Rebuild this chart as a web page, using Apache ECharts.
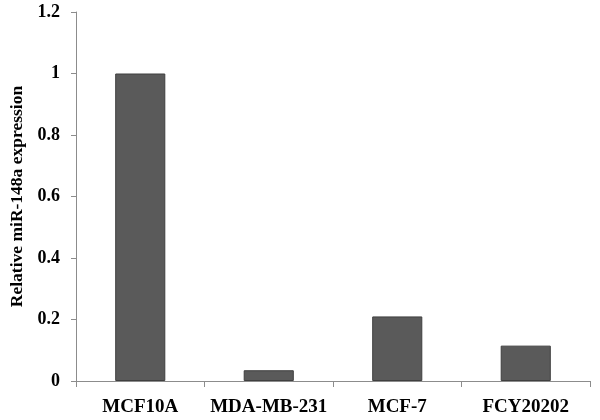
<!DOCTYPE html>
<html><head><meta charset="utf-8">
<script src="https://cdn.jsdelivr.net/npm/echarts@6/dist/echarts.min.js"></script>
<style>html,body{margin:0;padding:0;background:#fff}#c{width:600px;height:420px}</style>
</head><body><div id="c"></div>
<script>
const categories = ['MCF10A', 'MDA-MB-231', 'MCF-7', 'FCY20202'];
const values = [1.0, 0.035, 0.21, 0.115];
const yTicks = { min: 0, max: 1.2, interval: 0.2 };
const yName = 'Relative miR-148a expression';

const font = '"Liberation Serif", "Times New Roman", serif';
const chart = echarts.init(document.getElementById('c'));
chart.setOption({
  animation: false,
  grid: { left: 76, right: 10, top: 12, bottom: 39 },
  xAxis: {
    type: 'category', data: categories, boundaryGap: true,
    axisLine: { lineStyle: { color: '#8c8c8c', width: 1 } },
    axisTick: { show: true, length: 6, lineStyle: { color: '#8c8c8c' } },
    axisLabel: { interval: 0, color: '#000', fontFamily: font, fontWeight: 'bold', fontSize: 19, margin: 17 }
  },
  yAxis: {
    type: 'value', min: yTicks.min, max: yTicks.max, interval: yTicks.interval,
    name: yName, nameLocation: 'middle', nameGap: 50, nameRotate: 90,
    nameTextStyle: { color: '#000', fontFamily: font, fontWeight: 'bold', fontSize: 17.5 },
    axisLine: { show: true, lineStyle: { color: '#8c8c8c', width: 1 } },
    axisTick: { show: true, length: 5, lineStyle: { color: '#8c8c8c' } },
    splitLine: { show: false },
    axisLabel: { color: '#000', fontFamily: font, fontWeight: 'bold', fontSize: 18, margin: 16,
      formatter: v => String(Math.round(v * 10) / 10) }
  },
  series: [{
    type: 'bar', data: values, barWidth: '39%',
    itemStyle: { color: '#5a5a5a', borderColor: '#3f3f3f', borderWidth: 1 }
  }]
});
</script></body></html>
